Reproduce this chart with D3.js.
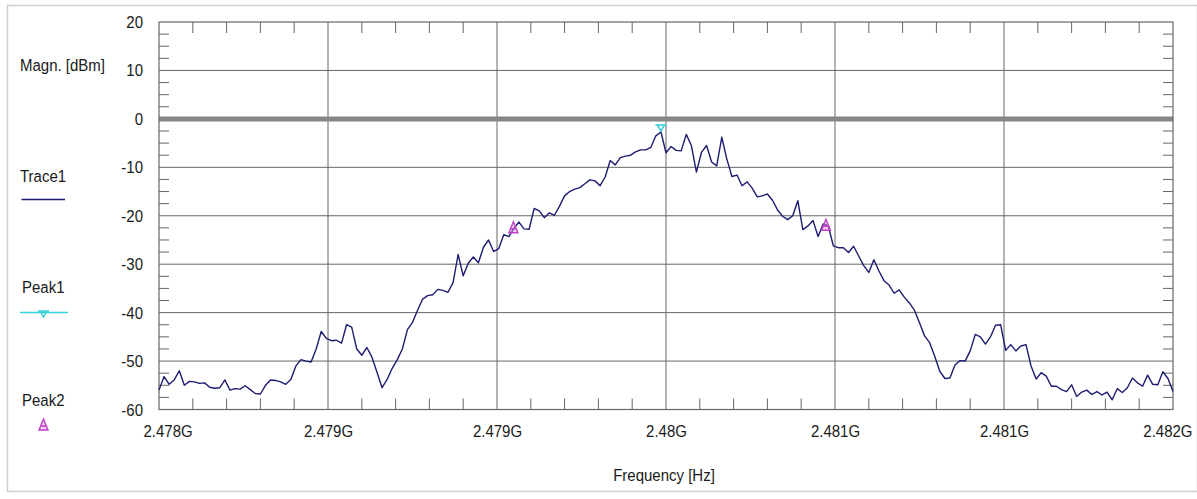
<!DOCTYPE html>
<html><head><meta charset="utf-8">
<script src="https://cdn.jsdelivr.net/npm/d3@7"></script>
<style>
html,body{margin:0;padding:0;background:#fff;}
svg{display:block;font-family:"Liberation Sans",Arial,sans-serif;}
</style></head><body>
<svg id="chart" width="1197" height="499"></svg>
<script>
// ---- data ----
const freqStartHz = 2.478e9;
const freqStopHz = 2.482e9;
const freqStepHz = 20e3;
const trace1Dbm = [
 -56.0,-53.2,-54.8,-53.9,-52.0,-55.0,-54.2,-54.3,-54.6,-54.5,
 -55.4,-55.6,-55.5,-53.9,-56.0,-55.7,-55.8,-55.1,-55.9,-56.7,
 -56.8,-55.0,-53.9,-54.0,-54.3,-54.8,-53.8,-51.0,-49.7,-50.0,
 -50.2,-47.5,-43.9,-45.3,-45.8,-45.7,-46.3,-42.5,-43.0,-47.5,
 -48.8,-47.2,-49.2,-52.3,-55.5,-53.8,-51.5,-49.7,-47.5,-43.5,
 -42.0,-39.5,-37.2,-36.5,-36.3,-35.2,-35.4,-35.8,-33.8,-28.0,
 -32.4,-29.8,-28.5,-29.7,-26.5,-25.0,-27.4,-26.8,-23.9,-24.3,
 -22.6,-21.3,-22.7,-22.8,-18.5,-19.0,-20.4,-19.4,-19.9,-18.0,
 -15.9,-15.0,-14.5,-14.2,-13.4,-12.6,-12.8,-13.8,-12.0,-8.6,
 -9.5,-8.0,-7.7,-7.5,-6.8,-6.4,-6.4,-5.9,-3.5,-2.7,
 -7.0,-5.7,-6.5,-6.6,-3.2,-5.5,-11.0,-6.9,-5.5,-8.9,
 -9.7,-3.8,-8.3,-11.9,-11.6,-13.8,-13.0,-14.3,-16.1,-15.9,
 -15.5,-16.8,-18.8,-20.1,-20.8,-20.0,-16.9,-22.9,-22.1,-21.0,
 -24.3,-21.7,-22.1,-26.2,-26.6,-26.6,-27.6,-26.3,-28.3,-30.3,
 -31.7,-29.1,-31.4,-33.4,-34.3,-36.0,-35.3,-36.8,-38.0,-39.5,
 -42.1,-44.8,-46.2,-49.0,-52.1,-53.6,-53.5,-50.8,-49.9,-50.0,
 -47.9,-44.5,-45.0,-46.5,-45.0,-42.6,-42.5,-47.8,-46.6,-47.9,
 -46.9,-46.6,-51.0,-53.7,-52.4,-53.1,-55.2,-55.2,-55.9,-56.3,
 -54.9,-57.3,-56.4,-56.0,-56.9,-56.3,-57.0,-56.4,-58.0,-55.7,
 -56.5,-55.5,-53.5,-54.5,-55.2,-52.9,-54.8,-54.9,-52.2,-53.6,
 -56.3
];
const peak1Freq = [2.47998e9];
const peak1Mag = [-2.5];
const peak2Freq = [2.479398e9, 2.480631e9];
const peak2Mag = [-23.5, -23.0];
const yTickValues = [20, 10, 0, -10, -20, -30, -40, -50, -60];
const xTickLabels = ["2.478G","2.479G","2.479G","2.48G","2.481G","2.481G","2.482G"];
const legendLabels = ["Trace1", "Peak1", "Peak2"];
const yTitle = "Magn. [dBm]";
const xTitle = "Frequency [Hz]";

// ---- layout ----
const L = 159, R = 1173, T = 22, B = 409.5;
const svg = d3.select("#chart");
const TXT = "#1a1a1a";
const GRID = "#666666";
const FS = 15, SY = 1.15;

const x = d3.scaleLinear().domain([freqStartHz, freqStopHz]).range([L, R]);
const y = d3.scaleLinear().domain([-60, 20]).range([B, T]);

// outer frame
svg.append("rect").attr("x", 7.5).attr("y", 5.5).attr("width", 1190).attr("height", 486)
  .attr("fill", "none").attr("stroke", "#cfcfcf").attr("stroke-width", 1.5);

const xTickVals = d3.range(xTickLabels.length).map(i => freqStartHz + i * (freqStopHz - freqStartHz) / (xTickLabels.length - 1));

// grid lines
const g = svg.append("g");
g.selectAll("line.hg").data(yTickValues.filter(v => v !== 20 && v !== -60 && v !== 0)).enter()
  .append("line").attr("x1", L).attr("x2", R).attr("y1", d => y(d)).attr("y2", d => y(d))
  .attr("stroke", GRID).attr("stroke-width", 1);
g.selectAll("line.vg").data(xTickVals.slice(1, -1)).enter()
  .append("line").attr("x1", d => x(d)).attr("x2", d => x(d)).attr("y1", T).attr("y2", B)
  .attr("stroke", GRID).attr("stroke-width", 1);

// minor ticks
const yMinor = d3.range(-60, 20.01, 2.5).filter(v => Math.abs(v % 10) > 0.01);
g.selectAll("line.ylm").data(yMinor).enter().append("line")
  .attr("x1", L).attr("x2", L + 10).attr("y1", d => y(d)).attr("y2", d => y(d))
  .attr("stroke", GRID);
g.selectAll("line.yrm").data(yMinor).enter().append("line")
  .attr("x1", R - 10).attr("x2", R).attr("y1", d => y(d)).attr("y2", d => y(d))
  .attr("stroke", GRID);
const xStep = (freqStopHz - freqStartHz) / 30;
const xMinor = d3.range(31).filter(i => i % 5 !== 0).map(i => freqStartHz + i * xStep);
g.selectAll("line.xtm").data(xMinor).enter().append("line")
  .attr("x1", d => x(d)).attr("x2", d => x(d)).attr("y1", T).attr("y2", T + 11)
  .attr("stroke", GRID);
g.selectAll("line.xbm").data(xMinor).enter().append("line")
  .attr("x1", d => x(d)).attr("x2", d => x(d)).attr("y1", B - 11).attr("y2", B)
  .attr("stroke", GRID);

// zero line
svg.append("line").attr("x1", L).attr("x2", R).attr("y1", y(0)).attr("y2", y(0))
  .attr("stroke", "#868686").attr("stroke-width", 5);

// plot frame
svg.append("rect").attr("x", L).attr("y", T).attr("width", R - L).attr("height", B - T)
  .attr("fill", "none").attr("stroke", GRID).attr("stroke-width", 1.2);

// trace
const pts = trace1Dbm.map((m, i) => ({ f: freqStartHz + i * freqStepHz, m }));
svg.append("path").datum(pts)
  .attr("d", d3.line().x(d => x(d.f)).y(d => y(d.m)))
  .attr("fill", "none").attr("stroke", "#1c1c72").attr("stroke-width", 1.4)
  .attr("stroke-linejoin", "round");

// markers
const peak1Path = "M-5.5,-6 H5.5 M-3.5,-6 L0,0 L3.5,-6";
svg.selectAll("path.p1").data(peak1Freq.map((f, i) => ({ f, m: peak1Mag[i] }))).enter()
  .append("path").attr("d", peak1Path)
  .attr("transform", d => `translate(${x(d.f)},${y(d.m)})`)
  .attr("fill", "none").attr("stroke", "#33d0d6").attr("stroke-width", 1.6);
const peak2Path = "M0,-11 L-4.5,0 L4.5,0 Z M-2.5,-4 H2.5";
svg.selectAll("path.p2").data(peak2Freq.map((f, i) => ({ f, m: peak2Mag[i] }))).enter()
  .append("path").attr("d", peak2Path)
  .attr("transform", d => `translate(${x(d.f)},${y(d.m)})`)
  .attr("fill", "rgba(225,140,225,0.45)").attr("stroke", "#c040c8").attr("stroke-width", 1.4);

// axes (labels only)
const yAxis = svg.append("g").attr("transform", `translate(${L},0)`)
  .call(d3.axisLeft(y).tickValues(yTickValues).tickSize(0).tickPadding(16).tickFormat(d => String(d)));
yAxis.select(".domain").remove();
yAxis.selectAll("text").attr("font-size", FS).attr("fill", TXT)
  .attr("font-family", '"Liberation Sans",Arial,sans-serif')
  .attr("transform", `scale(1,${SY})`);

const xAxis = svg.append("g").attr("transform", `translate(0,${B})`)
  .call(d3.axisBottom(x).tickValues(xTickVals).tickSize(0).tickPadding(13).tickFormat((d, i) => xTickLabels[i]));
xAxis.select(".domain").remove();
xAxis.selectAll("text").attr("font-size", FS).attr("fill", TXT)
  .attr("font-family", '"Liberation Sans",Arial,sans-serif')
  .attr("transform", `scale(1,${SY})`);
const xt = xAxis.selectAll("text").nodes();
d3.select(xt[0]).attr("text-anchor", "start").attr("x", -16);
d3.select(xt[xt.length - 1]).attr("text-anchor", "end").attr("x", 19);

// helper for stretched text
function stext(txt, px, py, anchor) {
  svg.append("text").attr("transform", `translate(${px},${py}) scale(1,${SY})`)
    .attr("text-anchor", anchor || "start").attr("font-size", FS).attr("fill", TXT).text(txt);
}
stext(yTitle, 20, 71);
stext(xTitle, 664, 481, "middle");

// legend
stext(legendLabels[0], 20, 182);
svg.append("line").attr("x1", 21.5).attr("x2", 65).attr("y1", 199.5).attr("y2", 199.5)
  .attr("stroke", "#1c1c72").attr("stroke-width", 1.5);
stext(legendLabels[1], 22, 293);
svg.append("line").attr("x1", 20).attr("x2", 68).attr("y1", 312.5).attr("y2", 312.5)
  .attr("stroke", "#33d0d6").attr("stroke-width", 1.5);
svg.append("path").attr("d", peak1Path).attr("transform", "translate(43.5,317)")
  .attr("fill", "none").attr("stroke", "#33d0d6").attr("stroke-width", 1.4);
stext(legendLabels[2], 22, 406);
svg.append("path").attr("d", peak2Path).attr("transform", "translate(43.5,430)")
  .attr("fill", "rgba(225,140,225,0.45)").attr("stroke", "#c040c8").attr("stroke-width", 1.4);
</script>
</body></html>
